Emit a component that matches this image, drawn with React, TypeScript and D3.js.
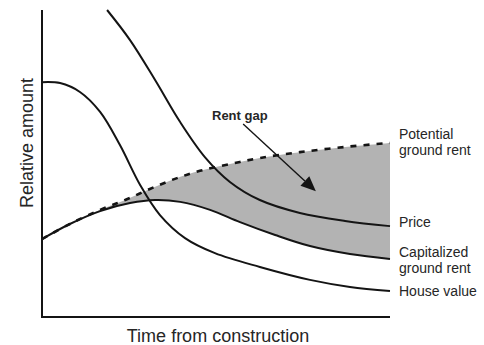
import React from "react";
import * as d3 from "d3";

// Time from construction (0-100) and relative amount (0-100)
const priceT = [18.7, 25.3, 32.5, 39.7, 46.8, 54.0, 62.6, 74.1, 87.1, 100];
const priceV = [100, 90.2, 77.2, 63.5, 52.1, 44.0, 38.1, 33.9, 31.3, 29.6];

const capT = [0, 8.0, 16.7, 25.3, 32.5, 39.7, 48.3, 56.9, 67.0, 77.0, 88.5, 100];
const capV = [25.4, 30.3, 34.5, 37.1, 38.1, 37.5, 34.9, 30.9, 26.7, 23.1, 20.5, 18.9];

const potT = [0, 8.0, 16.7, 23.9, 31.0, 38.2, 45.4, 54.0, 62.6, 74.1, 87.1, 100];
const potV = [25.4, 30.3, 34.9, 38.1, 41.7, 45.0, 47.6, 49.8, 51.8, 53.7, 55.4, 56.7];

const houseT = [0, 5.2, 10.9, 16.7, 22.4, 28.2, 33.9, 41.1, 49.7, 62.6, 77.0, 88.5, 100];
const houseV = [76.5, 76.2, 73.3, 66.8, 56.0, 43.0, 33.2, 25.7, 20.8, 16.3, 12.1, 9.8, 8.5];

const arrowT = [57.8, 78.7];
const arrowV = [62.9, 41.0];

const seriesLabels = [
  { lines: ["Potential", "ground rent"], y: 139 },
  { lines: ["Price"], y: 227 },
  { lines: ["Capitalized", "ground rent"], y: 257 },
  { lines: ["House value"], y: 296 },
];

const xTitle = "Time from construction";
const yTitle = "Relative amount";
const gapLabel = "Rent gap";

const W = 484;
const H = 345;
const left = 42, right = 390, top = 10, bottom = 317;

const zip = (t: number[], v: number[]) => t.map((d, i) => [d, v[i]] as [number, number]);

export default function App() {
  const x = d3.scaleLinear().domain([0, 100]).range([left, right]);
  const y = d3.scaleLinear().domain([0, 100]).range([bottom, top]);
  const curve = d3.curveCatmullRom.alpha(0.5);
  const line = d3
    .line<[number, number]>()
    .x((d) => x(d[0]))
    .y((d) => y(d[1]))
    .curve(curve);
  const area = d3
    .area<[number, number]>()
    .x((d) => x(d[0]))
    .y0(y(0))
    .y1((d) => y(d[1]))
    .curve(curve);

  const price = zip(priceT, priceV);
  const cap = zip(capT, capV);
  const pot = zip(potT, potV);
  const house = zip(houseT, houseV);

  const ax0 = x(arrowT[0]), ay0 = y(arrowV[0]);
  const ax1 = x(arrowT[1]), ay1 = y(arrowV[1]);
  const ang = Math.atan2(ay1 - ay0, ax1 - ax0);
  const headLen = 15, headHalf = 6.5;
  const bx = ax1 - headLen * Math.cos(ang), by = ay1 - headLen * Math.sin(ang);
  const px = -Math.sin(ang) * headHalf, py = Math.cos(ang) * headHalf;
  const head = `M${ax1},${ay1}L${bx + px},${by + py}L${bx - px},${by - py}Z`;

  const ink = "#141414";
  const textCol = "#262626";
  const font = "'Liberation Sans', Arial, sans-serif";

  return (
    <svg
      width={W}
      height={H}
      style={{ position: "fixed", left: 0, top: 0, background: "#fff" }}
      fontFamily={font}
    >
      <rect width={W} height={H} fill="#fff" />
      <path d={area(pot) || ""} fill="#b3b3b3" />
      <path d={area(cap) || ""} fill="#fff" />
      <path d={line(house) || ""} fill="none" stroke={ink} strokeWidth={2} />
      <path d={line(price) || ""} fill="none" stroke={ink} strokeWidth={2} />
      <path d={line(cap) || ""} fill="none" stroke={ink} strokeWidth={2} />
      <path d={line(pot) || ""} fill="none" stroke={ink} strokeWidth={2.6} strokeDasharray="6,7" />
      <line x1={left} y1={top} x2={left} y2={bottom} stroke={ink} strokeWidth={2} />
      <line x1={left - 1} y1={bottom} x2={right} y2={bottom} stroke={ink} strokeWidth={2} />
      <line x1={ax0} y1={ay0} x2={bx} y2={by} stroke={ink} strokeWidth={1.4} />
      <path d={head} fill={ink} />
      <text x={212} y={120} fontSize={13} fontWeight="bold" fill={textCol}>
        {gapLabel}
      </text>
      {seriesLabels.map((s, i) => (
        <text key={i} x={399} y={s.y} fontSize={14} fill={textCol}>
          {s.lines.map((l, j) => (
            <tspan key={j} x={399} dy={j === 0 ? 0 : 16}>
              {l}
            </tspan>
          ))}
        </text>
      ))}
      <text x={218} y={342} fontSize={18} textAnchor="middle" fill={textCol}>
        {xTitle}
      </text>
      <text
        transform={`translate(33,143) rotate(-90)`}
        fontSize={18}
        textAnchor="middle"
        fill={textCol}
      >
        {yTitle}
      </text>
    </svg>
  );
}
